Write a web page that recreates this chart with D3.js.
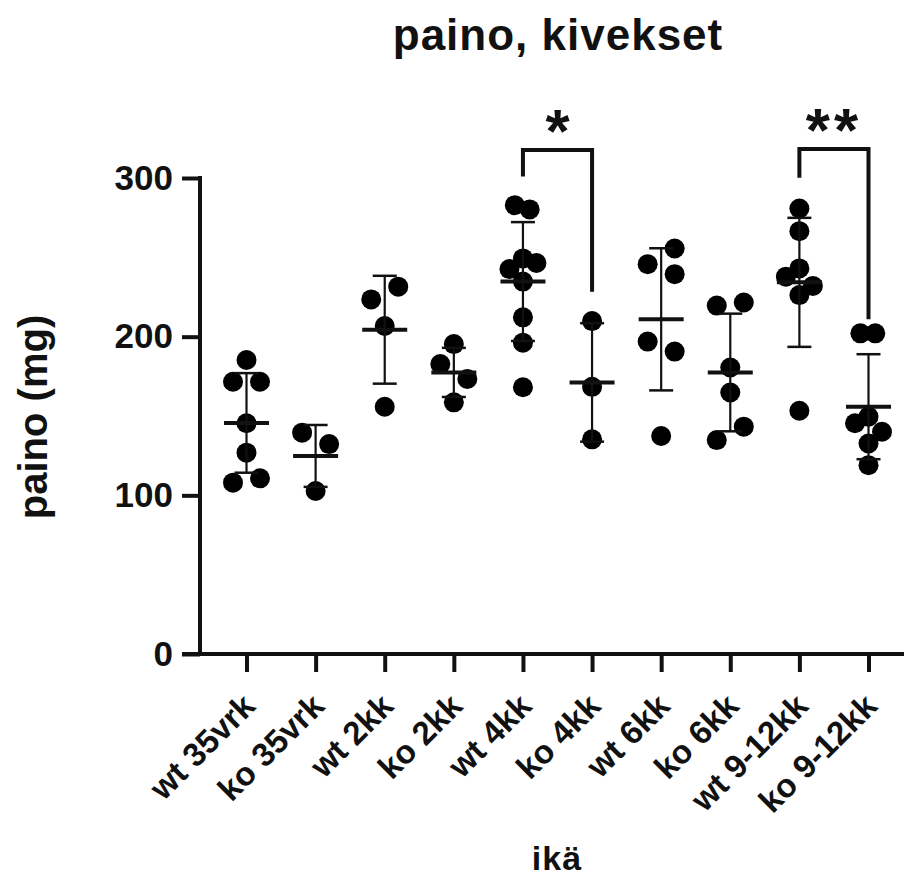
<!DOCTYPE html>
<html>
<head>
<meta charset="utf-8">
<script src="https://cdn.jsdelivr.net/npm/d3@7"></script>
<style>
  html, body { margin: 0; padding: 0; background: #fff; }
  svg { display: block; }
  text { font-family: "Liberation Sans", Arial, Helvetica, sans-serif; font-weight: bold; fill: #111; }
</style>
</head>
<body>
<svg id="chart" width="907" height="881"></svg>
<script>
// ---------- data ----------
const categories = ["wt 35vrk", "ko 35vrk", "wt 2kk", "ko 2kk", "wt 4kk", "ko 4kk", "wt 6kk", "ko 6kk", "wt 9-12kk", "ko 9-12kk"];

const wt35vrk  = [185.3, 171.6, 171.6, 145.4, 126.9, 108.0, 110.7];
const ko35vrk  = [139.5, 132.3, 102.7];
const wt2kk    = [223.5, 231.5, 206.7, 155.8];
const ko2kk    = [195.3, 182.7, 173.3, 158.6];
const wt4kk    = [282.9, 280.2, 249.3, 242.6, 246.4, 234.7, 212.2, 196.2, 168.1];
const ko4kk    = [209.8, 168.4, 135.3];
const wt6kk    = [255.6, 245.7, 239.4, 196.9, 190.6, 137.4];
const ko6kk    = [219.6, 221.5, 180.6, 164.8, 143.3, 134.8];
const wt912kk  = [280.8, 266.5, 243.0, 237.8, 232.0, 226.2, 153.3];
const ko912kk  = [202.1, 202.1, 149.6, 145.4, 140.1, 132.7, 119.0];

// scatter column index of each point (Prism-style spreading of overlapping dots)
const wt35vrkCol = [0, -1, 1, 0, 0, -1, 1];
const ko35vrkCol = [-1, 1, 0];
const wt2kkCol   = [-1, 1, 0, 0];
const ko2kkCol   = [0, -1, 1, 0];
const wt4kkCol   = [-0.6, 0.5, 0, -1, 1, 0, 0, 0, 0];
const ko4kkCol   = [0, 0, 0];
const wt6kkCol   = [1, -1, 1, -1, 1, 0];
const ko6kkCol   = [-1, 1, 0, 0, 1, -1];
const wt912kkCol = [0, 0, 0, -1, 1, 0, 0];
const ko912kkCol = [-0.6, 0.5, 0, -1, 1, 0, 0];

const groupValues = [wt35vrk, ko35vrk, wt2kk, ko2kk, wt4kk, ko4kk, wt6kk, ko6kk, wt912kk, ko912kk];
const groupCols   = [wt35vrkCol, ko35vrkCol, wt2kkCol, ko2kkCol, wt4kkCol, ko4kkCol, wt6kkCol, ko6kkCol, wt912kkCol, ko912kkCol];

const yTicks = [0, 100, 200, 300];

// significance brackets (values in mg)
const brackets = [
  { from: "wt 4kk",    to: "ko 4kk",    top: 317.6, leftEnd: 301.0, rightEnd: 228.3, label: "*" },
  { from: "wt 9-12kk", to: "ko 9-12kk", top: 318.2, leftEnd: 300.1, rightEnd: 210.9, label: "**" }
];

const title = "paino, kivekset";
const xTitle = "ikä";
const yTitle = "paino (mg)";

// ---------- layout ----------
const svg = d3.select("#chart");
const x = d3.scalePoint().domain(categories).range([246.5, 868.5]);
const y = d3.scaleLinear().domain([0, 300]).range([654, 178]);
const axisX = 200, axisLeftEnd = 182, axisRightEnd = 904;
const colStep = 13.5, r = 10;

// points
const pts = [];
categories.forEach((c, i) => {
  groupValues[i].forEach((v, j) => pts.push({ c, v, col: groupCols[i][j] }));
});

svg.append("g").selectAll("circle").data(pts).join("circle")
  .attr("cx", d => x(d.c) + d.col * colStep)
  .attr("cy", d => y(d.v))
  .attr("r", r)
  .attr("fill", "#000");

// mean ± SD
const stats = categories.map((c, i) => ({
  c, mean: d3.mean(groupValues[i]), sd: d3.deviation(groupValues[i])
}));
const eb = svg.append("g").attr("stroke", "#111").attr("fill", "none");
stats.forEach(s => {
  const cx = x(s.c);
  eb.append("line").attr("x1", cx).attr("x2", cx)
    .attr("y1", y(s.mean - s.sd)).attr("y2", y(s.mean + s.sd)).attr("stroke-width", 2.2);
  [s.mean - s.sd, s.mean + s.sd].forEach(v => {
    eb.append("line").attr("x1", cx - 12).attr("x2", cx + 12)
      .attr("y1", y(v)).attr("y2", y(v)).attr("stroke-width", 2.5);
  });
  eb.append("line").attr("x1", cx - 22.5).attr("x2", cx + 22.5)
    .attr("y1", y(s.mean)).attr("y2", y(s.mean)).attr("stroke-width", 4);
});

// y axis
const gy = svg.append("g").attr("transform", `translate(${axisX},0)`)
  .call(d3.axisLeft(y).tickValues(yTicks).tickSize(18).tickSizeOuter(0).tickPadding(9).tickFormat(d3.format("d")));
gy.select(".domain").remove();
gy.selectAll(".tick line").attr("stroke", "#111").attr("stroke-width", 4);
gy.selectAll(".tick text").attr("font-size", 35).attr("fill", "#111")
  .attr("font-family", "Liberation Sans, Arial, sans-serif").attr("font-weight", "bold");
gy.append("line").attr("x1", 0).attr("x2", 0).attr("y1", y(300) - 2).attr("y2", y(0) + 2)
  .attr("stroke", "#111").attr("stroke-width", 4);

// x axis
const gx = svg.append("g").attr("transform", `translate(0,${y(0)})`)
  .call(d3.axisBottom(x).tickSize(18).tickSizeOuter(0).tickPadding(0));
gx.select(".domain").remove();
gx.append("line").attr("x1", axisLeftEnd).attr("x2", axisRightEnd).attr("y1", 0).attr("y2", 0)
  .attr("stroke", "#111").attr("stroke-width", 4);
gx.selectAll(".tick line").attr("stroke", "#111").attr("stroke-width", 4);
gx.selectAll(".tick text")
  .attr("font-size", 33).attr("fill", "#111")
  .attr("font-family", "Liberation Sans, Arial, sans-serif").attr("font-weight", "bold")
  .attr("text-anchor", "end").attr("dy", null).attr("y", 0)
  .attr("transform", "translate(10,54) rotate(-45)");

// brackets
brackets.forEach(b => {
  const x1 = x(b.from), x2 = x(b.to);
  svg.append("path")
    .attr("d", `M${x1},${y(b.leftEnd)}V${y(b.top)}H${x2}V${y(b.rightEnd)}`)
    .attr("fill", "none").attr("stroke", "#111").attr("stroke-width", 4);
  svg.append("text").attr("x", (x1 + x2) / 2).attr("y", y(b.top) + 2)
    .attr("text-anchor", "middle").attr("font-size", 62).attr("letter-spacing", b.label.length > 1 ? 4 : 0)
    .text(b.label);
});

// titles
svg.append("text").attr("x", 558).attr("y", 50).attr("text-anchor", "middle")
  .attr("font-size", 44).attr("letter-spacing", 1).text(title);
svg.append("text").attr("x", 557).attr("y", 870).attr("text-anchor", "middle")
  .attr("font-size", 34).attr("letter-spacing", 1).text(xTitle);
svg.append("text").attr("transform", "translate(47,417) rotate(-90)").attr("text-anchor", "middle")
  .attr("font-size", 40).text(yTitle);
</script>
</body>
</html>
